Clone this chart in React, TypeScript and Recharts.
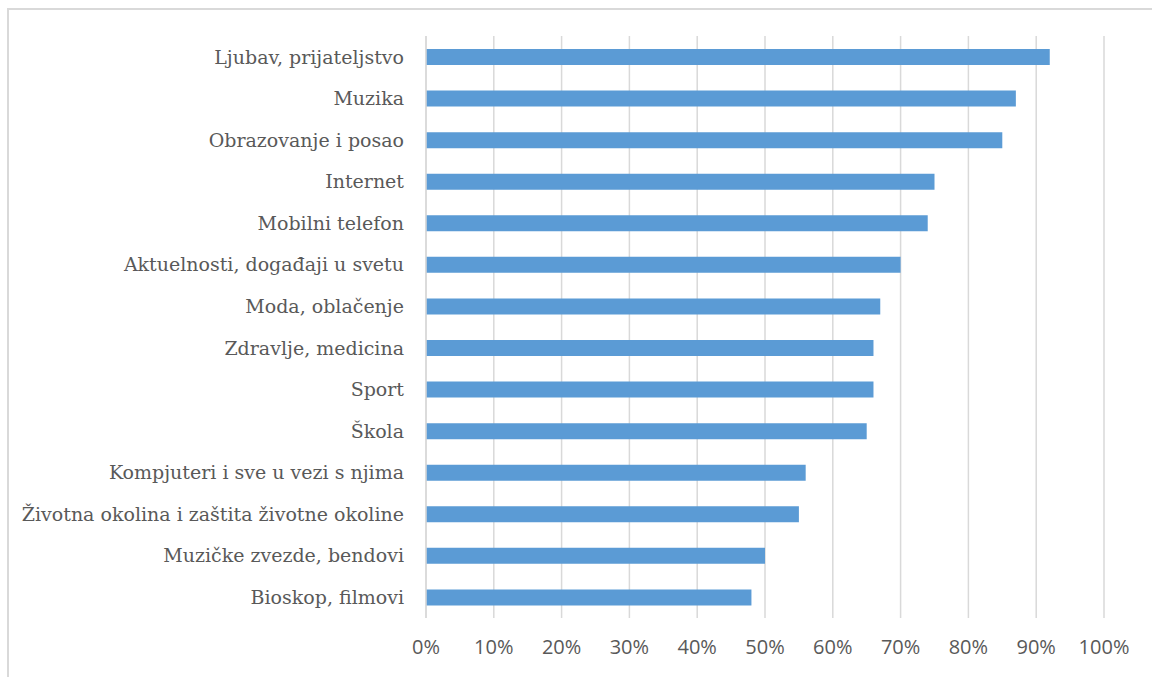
import React from 'react';
import { Bar, BarChart, CartesianGrid, XAxis, YAxis } from 'recharts';

const categories = [
  'Ljubav, prijateljstvo',
  'Muzika',
  'Obrazovanje i posao',
  'Internet',
  'Mobilni telefon',
  'Aktuelnosti, događaji u svetu',
  'Moda, oblačenje',
  'Zdravlje, medicina',
  'Sport',
  'Škola',
  'Kompjuteri i sve u vezi s njima',
  'Životna okolina i zaštita životne okoline',
  'Muzičke zvezde, bendovi',
  'Bioskop, filmovi'
];
const shares = [0.92, 0.87, 0.85, 0.75, 0.74, 0.70, 0.67, 0.66, 0.66, 0.65, 0.56, 0.55, 0.50, 0.48];
const xTicks = [0, 0.1, 0.2, 0.3, 0.4, 0.5, 0.6, 0.7, 0.8, 0.9, 1];

const data = categories.map((name, i) => ({ name, value: shares[i] }));

const App: React.FC = () => {
  return (
    <div
      style={{
        position: 'absolute',
        left: 7,
        top: 8,
        width: 1145,
        height: 669,
        borderTop: '2px solid #D9D9D9',
        borderLeft: '2px solid #D9D9D9',
        background: '#fff',
        overflow: 'hidden'
      }}
    >
      <BarChart
        width={1143}
        height={667}
        data={data}
        layout="vertical"
        margin={{ top: 26, right: 48, left: 0, bottom: 0 }}
      >
        <CartesianGrid horizontal={false} stroke="#D9D9D9" strokeWidth={1.5} />
        <XAxis
          type="number"
          domain={[0, 1]}
          ticks={xTicks}
          tickFormatter={(v: number) => `${Math.round(v * 100)}%`}
          axisLine={false}
          tickLine={false}
          height={59}
          tickMargin={16}
          tick={{ fontSize: 20, fill: '#595959', fontFamily: '"Open Sans", "Noto Sans", sans-serif' }}
        />
        <YAxis
          type="category"
          dataKey="name"
          width={417}
          axisLine={{ stroke: '#D9D9D9', strokeWidth: 1.5 }}
          tickLine={false}
          tickMargin={16}
          interval={0}
          tick={{ fontSize: 19, fill: '#595959', fontFamily: '"DejaVu Serif", serif' }}
        />
        <Bar dataKey="value" fill="#5B9BD5" barSize={16} isAnimationActive={false} />
      </BarChart>
    </div>
  );
};

export default App;
